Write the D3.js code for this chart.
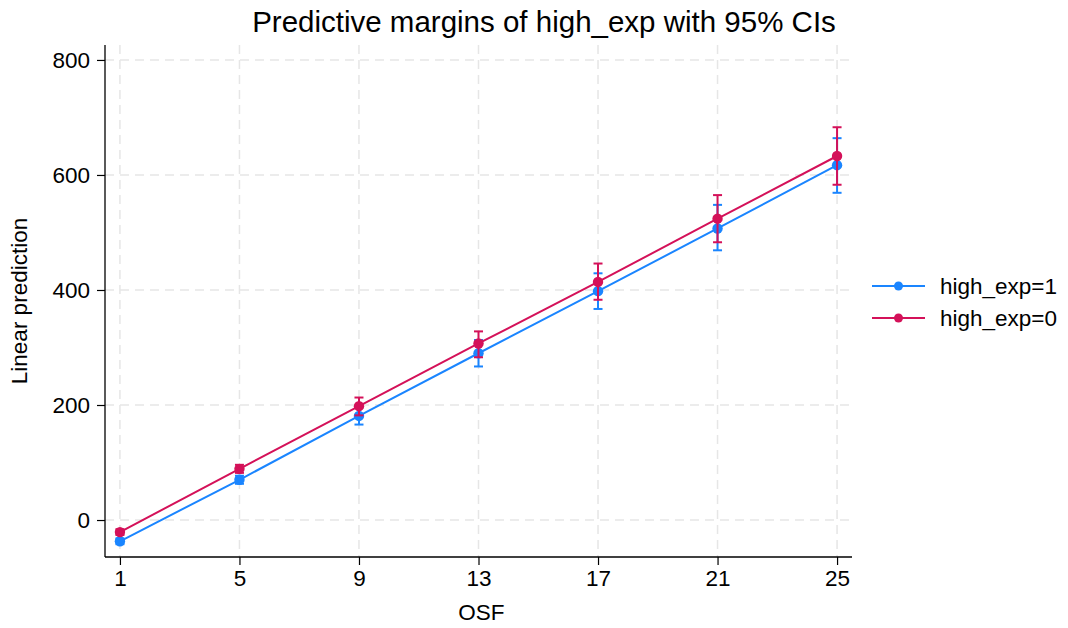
<!DOCTYPE html>
<html>
<head>
<meta charset="utf-8">
<script src="https://cdn.jsdelivr.net/npm/d3@7"></script>
<style>
  html, body { margin: 0; padding: 0; background: #fff; }
  svg { display: block; font-family: "Liberation Sans", Arial, sans-serif; }
</style>
</head>
<body>
<svg id="chart" width="1068" height="628"></svg>
<script>
// OSF levels at which margins were evaluated
const osf = [1, 5, 9, 13, 17, 21, 25];

// high_exp = 1: margin, lower and upper 95% limits
const exp1Margin = [-37, 70, 181, 290, 398, 507, 617];
const exp1Lower  = [-42, 63, 166, 267, 367, 469, 569];
const exp1Upper  = [-32, 77, 196, 313, 429, 548, 664];

// high_exp = 0: margin, lower and upper 95% limits
const exp0Margin = [-21, 89, 198, 307, 414, 524, 633];
const exp0Lower  = [-26, 82, 182, 283, 383, 483, 583];
const exp0Upper  = [-16, 96, 213, 328, 446, 565, 683];

const yTicks = [0, 200, 400, 600, 800];
const seriesLabels = ["high_exp=1", "high_exp=0"];
const seriesColors = ["#1a85ff", "#d41159"];

const series = [
  { label: seriesLabels[0], color: seriesColors[0], m: exp1Margin, lo: exp1Lower, hi: exp1Upper },
  { label: seriesLabels[1], color: seriesColors[1], m: exp0Margin, lo: exp0Lower, hi: exp0Upper }
];

const svg = d3.select("#chart");
const plot = { left: 105, right: 852, top: 45, bottom: 557 };
const labelSize = "22.5px";

const x = d3.scaleLinear().domain([0.5, 25.5]).range([plot.left, plot.right]);
const y = d3.scaleLinear().domain([-64.3, 826]).range([plot.bottom, plot.top]);

// dashed grid
const grid = svg.append("g").attr("stroke", "#e6e6e6").attr("stroke-width", 1.5)
  .attr("stroke-dasharray", "9,6");
grid.selectAll(".gy").data(yTicks).join("line")
  .attr("x1", plot.left).attr("x2", plot.right)
  .attr("y1", d => y(d)).attr("y2", d => y(d));
grid.selectAll(".gx").data(osf).join("line")
  .attr("y1", plot.top).attr("y2", plot.bottom)
  .attr("x1", d => x(d)).attr("x2", d => x(d));

// axes
const yAxis = svg.append("g").attr("transform", `translate(${plot.left},0)`)
  .call(d3.axisLeft(y).tickValues(yTicks).tickSize(8).tickPadding(7));
const xAxis = svg.append("g").attr("transform", `translate(0,${plot.bottom})`)
  .call(d3.axisBottom(x).tickValues(osf).tickSize(8).tickPadding(5));
[xAxis, yAxis].forEach(a => {
  a.select(".domain").remove();
  a.selectAll(".tick line").attr("stroke", "#000").attr("stroke-width", 1.2);
  a.selectAll(".tick text").attr("fill", "#000").style("font-size", labelSize)
    .style("font-family", "'Liberation Sans', Arial, sans-serif");
});
svg.append("line").attr("x1", plot.left).attr("x2", plot.left)
  .attr("y1", plot.top).attr("y2", plot.bottom).attr("stroke", "#000").attr("stroke-width", 1.3);
svg.append("line").attr("x1", plot.left).attr("x2", plot.right)
  .attr("y1", plot.bottom).attr("y2", plot.bottom).attr("stroke", "#000").attr("stroke-width", 1.3);

// series: error bars, connecting line, markers
const line = d3.line().x(d => x(d[0])).y(d => y(d[1]));
const cap = 4.5;
series.forEach(s => {
  const g = svg.append("g");
  const pts = osf.map((o, i) => ({ o, m: s.m[i], lo: s.lo[i], hi: s.hi[i] }));
  g.selectAll(".bar").data(pts).join("line")
    .attr("x1", d => x(d.o)).attr("x2", d => x(d.o))
    .attr("y1", d => y(d.lo)).attr("y2", d => y(d.hi))
    .attr("stroke", s.color).attr("stroke-width", 2);
  ["lo", "hi"].forEach(k => {
    g.selectAll(".cap-" + k).data(pts).join("line")
      .attr("x1", d => x(d.o) - cap).attr("x2", d => x(d.o) + cap)
      .attr("y1", d => y(d[k])).attr("y2", d => y(d[k]))
      .attr("stroke", s.color).attr("stroke-width", 2);
  });
  g.append("path").datum(osf.map((o, i) => [o, s.m[i]]))
    .attr("d", line).attr("fill", "none").attr("stroke", s.color).attr("stroke-width", 2);
  g.selectAll("circle").data(pts).join("circle")
    .attr("cx", d => x(d.o)).attr("cy", d => y(d.m)).attr("r", 5.2)
    .attr("fill", s.color);
});

// title and axis titles
svg.append("text").attr("x", 544).attr("y", 32).attr("text-anchor", "middle")
  .style("font-size", "29.5px").text("Predictive margins of high_exp with 95% CIs");
svg.append("text").attr("x", (plot.left + plot.right) / 2 + 3).attr("y", 620)
  .attr("text-anchor", "middle").style("font-size", labelSize).text("OSF");
svg.append("text").attr("transform", "translate(27,301) rotate(-90)")
  .attr("text-anchor", "middle").style("font-size", labelSize).text("Linear prediction");

// legend
const legend = svg.append("g");
series.forEach((s, i) => {
  const ly = 286 + i * 32;
  legend.append("line").attr("x1", 872).attr("x2", 925).attr("y1", ly).attr("y2", ly)
    .attr("stroke", s.color).attr("stroke-width", 2);
  legend.append("circle").attr("cx", 898.5).attr("cy", ly).attr("r", 4.5).attr("fill", s.color);
  legend.append("text").attr("x", 940).attr("y", ly + 8).style("font-size", labelSize).text(s.label);
});
</script>
</body>
</html>
